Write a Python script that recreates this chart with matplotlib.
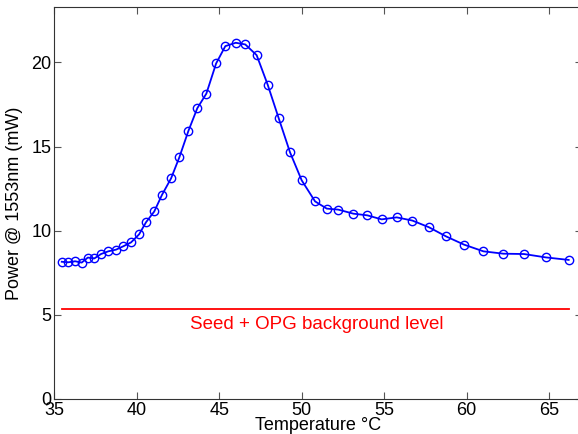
import matplotlib
matplotlib.use("Agg")
import matplotlib.pyplot as plt

plt.rcParams['font.family'] = ['Liberation Sans', 'DejaVu Sans']

# temperatura (°C) y potencia medida (mW)
temp = [35.45, 35.85, 36.26, 36.66, 37.03, 37.43, 37.83, 38.27, 38.74, 39.18,
        39.65, 40.14, 40.56, 41.06, 41.53, 42.08, 42.58, 43.13, 43.67, 44.22,
        44.81, 45.37, 46.00, 46.58, 47.27, 47.94, 48.61, 49.29, 50.00, 50.81,
        51.52, 52.22, 53.13, 53.98, 54.85, 55.76, 56.71, 57.72, 58.75, 59.84,
        61.02, 62.23, 63.48, 64.80, 66.19]
power = [8.15, 8.12, 8.18, 8.10, 8.40, 8.35, 8.61, 8.77, 8.87, 9.07,
         9.30, 9.78, 10.50, 11.14, 12.13, 13.11, 14.36, 15.93, 17.28, 18.15,
         19.94, 20.97, 21.17, 21.07, 20.43, 18.67, 16.67, 14.66, 12.99, 11.74,
         11.31, 11.25, 11.01, 10.91, 10.67, 10.79, 10.60, 10.20, 9.66, 9.17,
         8.77, 8.63, 8.61, 8.41, 8.26]

# nivel de fondo (seed + OPG)
bg_x = [35.47, 66.2]
bg_level = 5.34

xticks = [35, 40, 45, 50, 55, 60, 65]
yticks = [0, 5, 10, 15, 20]

fig = plt.figure(figsize=(5.78, 4.34), dpi=100)
ax = fig.add_axes([0.094, 0.081, 0.913, 0.903])

ax.plot(temp, power, color="blue", linewidth=1.3, marker="o", markersize=6,
        markerfacecolor="none", markeredgecolor="blue", markeredgewidth=1.0)
ax.plot(bg_x, [bg_level, bg_level], color="red", linewidth=1.3)
ax.text(50.9, 4.4, "Seed + OPG background level", color="red",
        fontsize=13.5, ha="center", va="center")

ax.set_xlim(35, 67)
ax.set_ylim(0, 23.3)
ax.set_xticks(xticks)
ax.set_yticks(yticks)
ax.tick_params(direction="in", length=5, width=0.8, color="#555555",
               top=True, right=True, labelsize=13, pad=2)
for s in ax.spines.values():
    s.set_color("#333333")
    s.set_linewidth(0.8)

ax.set_xlabel("Temperature °C", fontsize=13, labelpad=-1)
ax.set_ylabel("Power @ 1553nm (mW)", fontsize=13, labelpad=6)

fig.savefig("out.png", dpi=100)
